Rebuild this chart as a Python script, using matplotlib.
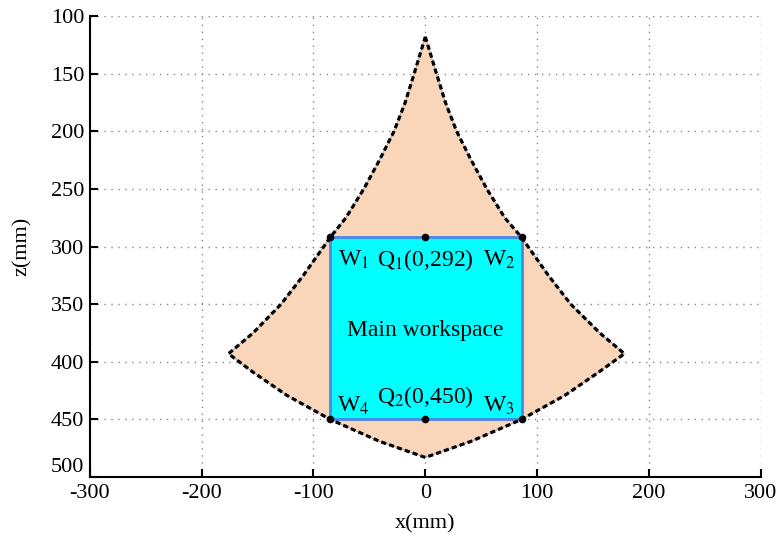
import matplotlib
matplotlib.use("Agg")
import matplotlib.pyplot as plt

plt.rcParams["font.family"] = ["Liberation Serif", "DejaVu Serif"]
plt.rcParams["mathtext.fontset"] = "stix"
plt.rcParams["axes.unicode_minus"] = False

# Reachable workspace boundary (x, z in mm), traced clockwise from the apex
upper_right_x = [0, 10, 18, 28, 41, 55, 71, 86, 110, 130, 156, 178]
upper_right_z = [118, 150, 175, 200, 225, 250, 275, 292, 325, 350, 375, 393]
lower_right_x = [178, 155, 125, 86, 41, 0]
lower_right_z = [393, 409, 429, 450, 469, 483]
lower_left_x = [0, -41, -85, -124, -154, -176]
lower_left_z = [483, 469, 450, 429, 409, 393]
upper_left_x = [-176, -154, -129, -109, -85, -71, -55, -41, -28, -18, -10, 0]
upper_left_z = [393, 375, 350, 325, 292, 275, 250, 225, 200, 175, 150, 118]

# Main (rectangular) workspace corners W1..W4 and mid points Q1, Q2
w_names = ["W$_1$", "W$_2$", "W$_3$", "W$_4$"]
w_x = [-85, 86, 86, -85]
w_z = [292, 292, 450, 450]
q_names = ["Q$_1$(0,292)", "Q$_2$(0,450)"]
q_x = [0, 0]
q_z = [292, 450]

xticks = [-300, -200, -100, 0, 100, 200, 300]
zticks = [100, 150, 200, 250, 300, 350, 400, 450, 500]

bx = upper_right_x + lower_right_x[1:] + lower_left_x[1:] + upper_left_x[1:]
bz = upper_right_z + lower_right_z[1:] + lower_left_z[1:] + upper_left_z[1:]

fig = plt.figure(figsize=(7.84, 5.36), dpi=100)
ax = fig.add_axes([0.1145, 0.110, 0.8560, 0.860])

ax.fill(bx, bz, color="#f9d6b9", lw=0, zorder=1)
ax.plot(bx, bz, color="#999999", lw=0.6, zorder=4)
ax.plot(bx, bz, color="black", lw=2.3, ls=(0, (1.6, 1.0)), zorder=4)

rect_x = w_x + [w_x[0]]
rect_z = w_z + [w_z[0]]
ax.fill(rect_x, rect_z, color="#00ffff", lw=0, zorder=2)
ax.plot(rect_x, rect_z, color="#4a86e8", lw=2.0, zorder=3)

ax.plot(w_x + q_x, w_z + q_z, "o", color="black", ms=4.5, zorder=5)

# corner / point labels
fs = 17
ax.text(-78, 317, w_names[0], fontsize=fs, ha="left", va="baseline", zorder=6)
ax.text(52, 317, w_names[1], fontsize=fs, ha="left", va="baseline", zorder=6)
ax.text(52, 443, w_names[2], fontsize=fs, ha="left", va="baseline", zorder=6)
ax.text(-79, 443, w_names[3], fontsize=fs, ha="left", va="baseline", zorder=6)
ax.text(q_x[0], 317, q_names[0], fontsize=fs, ha="center", va="baseline", zorder=6)
ax.text(q_x[1], 436, q_names[1], fontsize=fs, ha="center", va="baseline", zorder=6)
ax.text(0, 378, "Main workspace", fontsize=fs, ha="center", va="baseline", zorder=6)

ax.set_xlim(-300, 300)
ax.set_ylim(500, 100)
ax.set_xticks(xticks)
ax.set_yticks(zticks)
ax.grid(True, color="#888888", ls=(0, (1, 4)), lw=1.0)
ax.set_axisbelow(True)
ax.tick_params(direction="in", length=6, width=1.5, labelsize=16)
ax.tick_params(axis="x", pad=5)
ax.tick_params(axis="y", pad=4)
# lift the lowest z label clear of the x tick labels
ax.get_yticklabels()[-1].set_va("bottom")
for side in ["top", "right"]:
    ax.spines[side].set_visible(False)
for side in ["left", "bottom"]:
    ax.spines[side].set_linewidth(1.5)

ax.set_xlabel("x(mm)", fontsize=16, labelpad=8)
ax.set_ylabel("z(mm)", fontsize=16, labelpad=14)

fig.savefig("out.png", dpi=100)
